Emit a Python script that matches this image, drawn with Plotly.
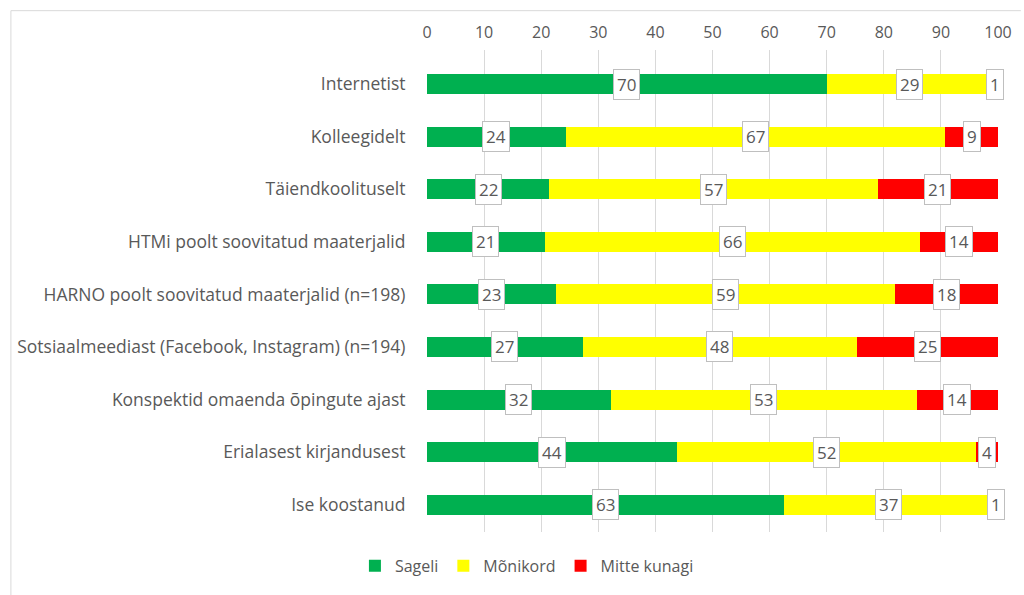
import plotly.graph_objects as go

categories = [
    "Internetist",
    "Kolleegidelt",
    "Täiendkoolituselt",
    "HTMi poolt soovitatud maaterjalid",
    "HARNO poolt soovitatud maaterjalid (n=198)",
    "Sotsiaalmeediast (Facebook, Instagram) (n=194)",
    "Konspektid omaenda õpingute ajast",
    "Erialasest kirjandusest",
    "Ise koostanud",
]
series_names = ["Sageli", "Mõnikord", "Mitte kunagi"]
sageli = [70.0, 24.3, 21.4, 20.6, 22.6, 27.3, 32.2, 43.8, 62.6]
monikord = [29.0, 66.5, 57.5, 65.8, 59.3, 48.0, 53.6, 52.4, 36.6]
mitte = [1.0, 9.2, 21.1, 13.6, 18.1, 24.7, 14.2, 3.8, 0.8]
sageli_lbl = [70, 24, 22, 21, 23, 27, 32, 44, 63]
monikord_lbl = [29, 67, 57, 66, 59, 48, 53, 52, 37]
mitte_lbl = [1, 9, 21, 14, 18, 25, 14, 4, 1]
colors = ["#00B050", "#FFFF00", "#FF0000"]
x_ticks = [0, 10, 20, 30, 40, 50, 60, 70, 80, 90, 100]

FONT = "Open Sans"
TXT = "#595959"

fig = go.Figure()
all_vals = [sageli, monikord, mitte]
all_lbls = [sageli_lbl, monikord_lbl, mitte_lbl]
for name, vals, col in zip(series_names, all_vals, colors):
    fig.add_trace(go.Bar(y=categories, x=vals, name=name, orientation="h",
                         marker=dict(color=col, line=dict(width=0))))

annotations = []
for i, cat in enumerate(categories):
    start = 0.0
    for vals, lbls in zip(all_vals, all_lbls):
        v = vals[i]
        annotations.append(dict(
            x=start + v / 2, y=cat, xref="x", yref="y", text=str(lbls[i]),
            showarrow=False, bgcolor="white", bordercolor="#bfbfbf", borderwidth=1,
            borderpad=3, font=dict(family=FONT, size=17, color=TXT)))
        start += v

fig.update_layout(
    width=1024, height=595,
    margin=dict(l=427, r=19, t=50, b=55),
    barmode="stack", bargap=0.62,
    plot_bgcolor="white", paper_bgcolor="white",
    font=dict(family=FONT, size=16, color=TXT),
    annotations=annotations,
    legend=dict(orientation="h", x=0.175, xanchor="center", y=-0.07, yanchor="middle",
                font=dict(family=FONT, size=16, color=TXT), itemwidth=30,
                traceorder="normal"),
    xaxis=dict(side="top", range=[0, 100], tickvals=x_ticks, showgrid=True,
               gridcolor="#d9d9d9", gridwidth=1, zeroline=False, showline=False,
               ticks="outside", ticklen=5, tickcolor="rgba(0,0,0,0)",
               tickfont=dict(family=FONT, size=16, color=TXT)),
    yaxis=dict(type="category", range=[8.52, -0.65], showgrid=False, zeroline=False,
               showline=False, ticks="outside", ticklen=17, tickcolor="rgba(0,0,0,0)",
               tickfont=dict(family=FONT, size=17.5, color=TXT)),
    shapes=[
        dict(type="line", xref="paper", yref="paper", x0=-0.7287, x1=1.04,
             y0=1.0816, y1=1.0816, line=dict(color="#d9d9d9", width=1)),
        dict(type="line", xref="paper", yref="paper", x0=-0.7287, x1=-0.7287,
             y0=1.0816, y1=-0.2, line=dict(color="#d9d9d9", width=1)),
    ],
)

fig.write_html("out.html")
